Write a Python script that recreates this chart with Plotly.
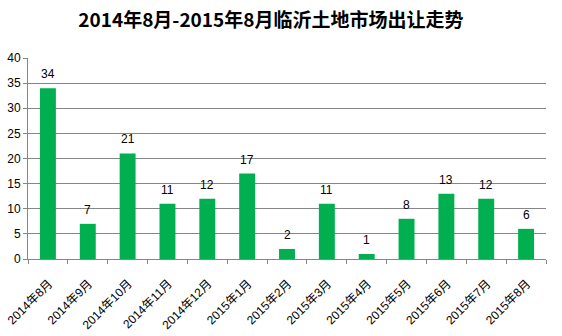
import plotly.graph_objects as go

months = ["2014年8月", "2014年9月", "2014年10月", "2014年11月", "2014年12月",
          "2015年1月", "2015年2月", "2015年3月", "2015年4月", "2015年5月",
          "2015年6月", "2015年7月", "2015年8月"]
counts = [34, 7, 21, 11, 12, 17, 2, 11, 1, 8, 13, 12, 6]
y_ticks = [0, 5, 10, 15, 20, 25, 30, 35, 40]

font_family = "Liberation Sans, Noto Sans CJK SC, sans-serif"

fig = go.Figure(go.Bar(
    x=months,
    y=counts,
    width=0.4,
    marker=dict(color="#00B050", line=dict(width=0)),
    cliponaxis=False,
))

# value labels sitting a little above each bar
for m, v in zip(months, counts):
    fig.add_annotation(
        x=m, y=v, text=str(v), showarrow=False,
        xanchor="center", yanchor="bottom", yshift=5,
        font=dict(size=12, color="#000000", family=font_family),
    )

fig.update_layout(
    width=562, height=336,
    margin=dict(l=28, r=16, t=58, b=77, autoexpand=False),
    paper_bgcolor="white", plot_bgcolor="white",
    showlegend=False,
    title=dict(
        text="<b>2014年8月-2015年8月临沂土地市场出让走势</b>",
        x=0.482, xanchor="center", y=0.94, yanchor="middle",
        font=dict(size=19, color="#000000", family="Noto Sans CJK SC, sans-serif"),
    ),
    xaxis=dict(
        type="category",
        automargin=False,
        tickangle=-45,
        ticks="outside", ticklen=4, tickcolor="#868686",
        tickson="boundaries",
        ticklabelstandoff=12,
        ticklabelshift=1,
        showline=True, linecolor="#868686", linewidth=1,
        showgrid=False,
        tickfont=dict(size=12, color="#000000", family=font_family),
    ),
    yaxis=dict(
        range=[0, 40],
        automargin=False,
        tickvals=y_ticks,
        ticks="outside", ticklen=4, tickcolor="#868686",
        showline=True, linecolor="#868686", linewidth=1,
        showgrid=True, gridcolor="#868686", gridwidth=1,
        zeroline=False,
        tickfont=dict(size=12, color="#000000", family=font_family),
    ),
)

fig.write_html("out.html")
